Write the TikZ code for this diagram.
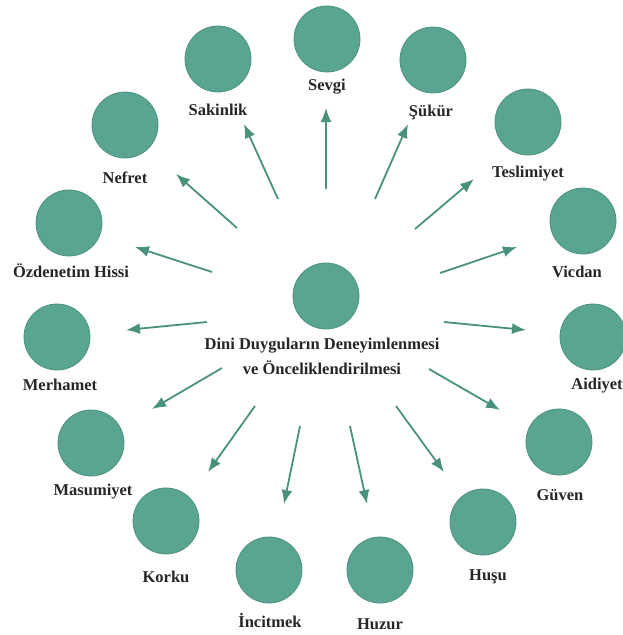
\documentclass[tikz,border=0pt]{standalone}
\usepackage{fontspec}
\setmainfont{Liberation Serif}
\usetikzlibrary{arrows.meta}
\definecolor{circfill}{HTML}{5AA591}
\definecolor{circedge}{HTML}{4C927F}
\definecolor{arrowc}{HTML}{4A917D}
\definecolor{txt}{HTML}{262626}
\tikzset{
  emo/.style={circle, fill=circfill, draw=circedge, line width=0.8pt, minimum size=66pt, inner sep=0pt},
  lbl/.style={font=\bfseries\fontsize{16.5}{19}\selectfont, text=txt, inner sep=0pt},
  arr/.style={draw=arrowc, line width=1.8pt, -{Latex[length=14pt,width=11pt]}}
}
\begin{document}
\begin{tikzpicture}[x=1pt,y=-1pt]
\useasboundingbox (0,0) rectangle (622,635);
% center
\node[emo] (c) at (326,296) {};
\node[lbl, align=center] (ct) at (322,356) {Dini Duyguların Deneyimlenmesi\\[6pt]ve Önceliklendirilmesi};
% outer circles and labels
\foreach \n/\x/\y/\lx/\ly/\t in {
  sevgi/327/39/327/87/Sevgi,
  sukur/433/60/431/112/Şükür,
  tesl/528/122/528/174/Teslimiyet,
  vicd/583/221/577/272/Vicdan,
  aidi/593/337/597/386/Aidiyet,
  guve/559/442/560/495/Güven,
  husu/483/522/488/577/Huşu,
  huzu/380/570/380/624/Huzur,
  inci/269/570/270/621/İncitmek,
  kork/166/521/166/577/Korku,
  masu/91/443/93/492/Masumiyet,
  merh/57/337/60/385/Merhamet,
  ozde/69/223/71/271/Özdenetim Hissi,
  nefr/125/125/125/178/Nefret,
  saki/218/59/218/110/Sakinlik}
{
  \node[emo] (\n) at (\x,\y) {};
  \node[lbl] (\n-l) at (\lx,\ly) {\t};
}
% arrows (tail -> tip)
\foreach \n/\ax/\ay/\bx/\by in {
  sevgi/326/189/326/108,
  sukur/375/199/408/124,
  tesl/415/229/474/179,
  vicd/440/273/517/247,
  aidi/444/322/526/330,
  guve/429/369/500/410,
  husu/396/406/444/472,
  huzu/350/426/367/504,
  inci/300/426/284/504,
  kork/255/406/208/472,
  masu/222/368/152/409,
  merh/207/322/126/330,
  ozde/212/272/135/247,
  nefr/237/228/176/174,
  saki/278/199/244/124}
{
  \coordinate (\n-s) at (\ax,\ay);
  \coordinate (\n-e) at (\bx,\by);
  \draw[arr] (\n-s) -- (\n-e);
}
\end{tikzpicture}
\end{document}
